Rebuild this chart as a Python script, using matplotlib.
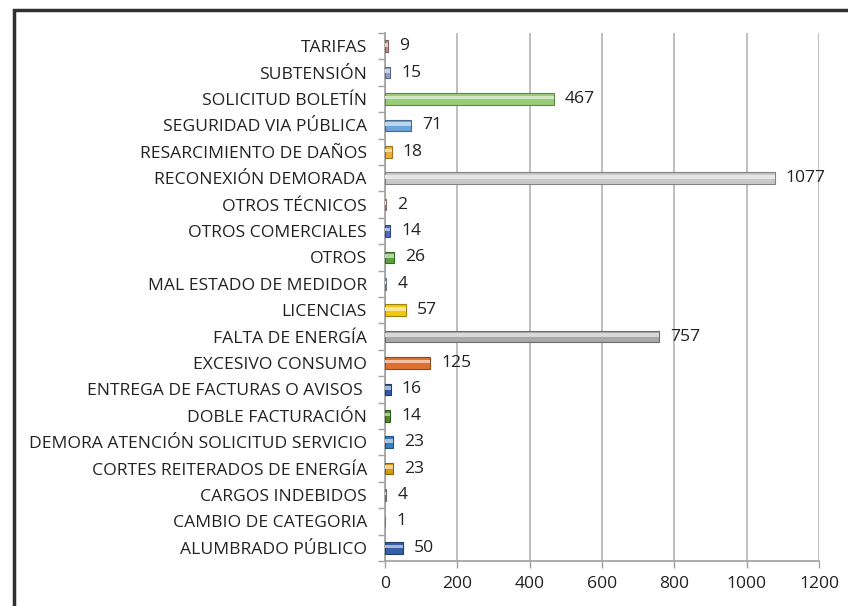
import matplotlib
matplotlib.use("Agg")
import matplotlib.pyplot as plt
from matplotlib.patches import Rectangle
from matplotlib import font_manager
import matplotlib.colors as mcolors
import numpy as np

categories = [
    "ALUMBRADO PÚBLICO", "CAMBIO DE CATEGORIA", "CARGOS INDEBIDOS",
    "CORTES REITERADOS DE ENERGÍA", "DEMORA ATENCIÓN SOLICITUD SERVICIO",
    "DOBLE FACTURACIÓN", "ENTREGA DE FACTURAS O AVISOS ", "EXCESIVO CONSUMO",
    "FALTA DE ENERGÍA", "LICENCIAS", "MAL ESTADO DE MEDIDOR", "OTROS",
    "OTROS COMERCIALES", "OTROS TÉCNICOS", "RECONEXIÓN DEMORADA",
    "RESARCIMIENTO DE DAÑOS", "SEGURIDAD VIA PÚBLICA", "SOLICITUD BOLETÍN",
    "SUBTENSIÓN", "TARIFAS",
]
values = [50, 1, 4, 23, 23, 14, 16, 125, 757, 57, 4, 26, 14, 2, 1077, 18, 71, 467, 15, 9]
colors = [
    "#3560a8", "#d9b4a0", "#a8a8a8", "#d49a12", "#3a7cc0",
    "#4f8a2a", "#2f5ca8", "#e07030", "#a8a8a8", "#f0c810",
    "#a9b8cc", "#5aa040", "#4a6fc0", "#d8a8a0", "#c8c8c8",
    "#e8b038", "#6aa4dc", "#98cc78", "#8c9ed0", "#c89080",
]
xticks = [0, 200, 400, 600, 800, 1000, 1200]

plt.rcParams["font.family"] = ["Open Sans", "DejaVu Sans"]
fs = 12.6

fig = plt.figure(figsize=(8.48, 6.06), dpi=100)
ax = fig.add_axes([385/848, 1-561/606, (819-385)/848, (561-33)/606])

y = np.arange(len(categories))
h = 0.44

def darker(c, f=0.65):
    r, g, b = mcolors.to_rgb(c)
    return (r*f, g*f, b*f)

def lighter(c, f=0.55):
    r, g, b = mcolors.to_rgb(c)
    return (r+(1-r)*f, g+(1-g)*f, b+(1-b)*f)

ax.barh(y, values, height=h, color=colors, edgecolor=[darker(c) for c in colors],
        linewidth=0.8, zorder=3)
ax.barh(y + h*0.12, values, height=h*0.3, color=[lighter(c) for c in colors],
        linewidth=0, zorder=4)

for yi, v in zip(y, values):
    ax.annotate(str(v), (v, yi), xytext=(8, 0), textcoords="offset points",
                va="center", ha="left", fontsize=fs, color="#222222", zorder=5)

ax.set_xlim(0, 1200)
ax.set_ylim(-0.5, len(categories) - 0.5)
ax.set_xticks(xticks)
ax.set_xticklabels([str(t) for t in xticks], fontsize=fs, color="#222222")
ax.set_yticks(y)
ax.set_yticklabels(categories, fontsize=fs, color="#222222")
ax.set_yticks(np.arange(-0.5, len(categories), 1), minor=True)
ax.tick_params(axis="y", which="major", length=0, pad=13)
ax.tick_params(axis="y", which="minor", length=5, color="#a0a0a0", width=1)
ax.tick_params(axis="x", length=5, color="#a0a0a0", width=1, pad=6)

ax.grid(axis="x", color="#b4b4b4", linewidth=1.2, zorder=0)
ax.set_axisbelow(True)
for s in ["top", "right"]:
    ax.spines[s].set_visible(False)
for s in ["left", "bottom"]:
    ax.spines[s].set_color("#a0a0a0")
    ax.spines[s].set_linewidth(1.2)

frame = Rectangle((14/848, -0.05), 1.2, 1 - 10/606 + 0.05, transform=fig.transFigure,
                  fill=False, edgecolor="#303030", linewidth=2.5, zorder=10)
fig.patches.append(frame)

fig.savefig("out.png", dpi=100)
